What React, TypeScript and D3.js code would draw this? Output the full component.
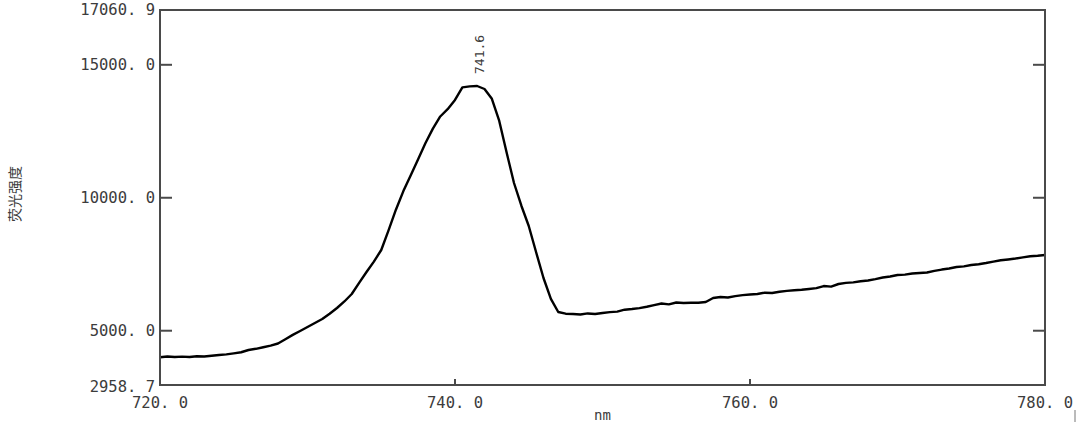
import React from "react";
import * as d3 from "d3";

const WL_START = 720;
const WL_END = 780;
const WL_STEP = 0.5;

// fluorescence intensity, every 0.5 nm from 720 to 780
const intensity: number[] = [
  4000, 4030, 4010, 4025, 4012, 4040, 4030, 4060, 4087, 4110, // 720 - 724.5
  4150, 4190, 4275, 4320, 4380, 4440, 4520, 4680, 4843, 4990, // 725 - 729.5
  5140, 5290, 5441, 5640, 5855, 6100, 6381, 6800, 7208, 7600, // 730 - 734.5
  8035, 8780, 9560, 10250, 10850, 11450, 12059, 12600, 13056, 13330, // 735 - 739.5
  13680, 14150, 14190, 14203, 14090, 13720, 12887, 11700, 10555, 9700, // 740 - 744.5
  8938, 7950, 6982, 6200, 5704, 5640, 5628, 5610, 5650, 5630, // 745 - 749.5
  5666, 5700, 5720, 5790, 5816, 5850, 5900, 5960, 6024, 5990, // 750 - 754.5
  6060, 6040, 6054, 6050, 6080, 6230, 6268, 6250, 6300, 6340, // 755 - 759.5
  6362, 6380, 6430, 6420, 6467, 6500, 6520, 6540, 6569, 6600, // 760 - 764.5
  6680, 6660, 6757, 6800, 6820, 6860, 6888, 6940, 7000, 7040, // 765 - 769.5
  7095, 7110, 7150, 7170, 7189, 7250, 7300, 7340, 7396, 7420, // 770 - 774.5
  7470, 7500, 7546, 7600, 7650, 7680, 7716, 7760, 7800, 7820, // 775 - 779.5
  7847, // 780
];

const yTicks: number[] = [15000, 10000, 5000];
const yMin = 2958.7;
const yMax = 17060.9;
const xTicks: number[] = [740, 760];
const xEdgeTicks: number[] = [720, 780];
const peakWl = 741.6;
const peakValue = 14203;

const fmt = (v: number) => v.toFixed(1).replace(".", ". ");

export default function App() {
  const W = 1080;
  const H = 425;
  const left = 160, right = 1045, top = 10, bottom = 385;
  const x = d3.scaleLinear().domain([WL_START, WL_END]).range([left, right]);
  const y = d3.scaleLinear().domain([yMin, yMax]).range([bottom, top]);
  const data = intensity.map((v, i) => ({ wl: WL_START + i * WL_STEP, v }));
  const line = d3
    .line<{ wl: number; v: number }>()
    .x((d) => x(d.wl))
    .y((d) => y(d.v));
  const axisColor = "#4a4a4a";
  const textColor = "#3c3c3c";
  const monoFont = "'DejaVu Sans Mono', monospace";
  return (
    <svg
      width={W}
      height={H}
      style={{ position: "absolute", left: 0, top: 0, background: "#fff" }}
    >
      <path d={line(data) || ""} fill="none" stroke="#000" strokeWidth={2.4} strokeLinejoin="round" />
      <rect x={left} y={top} width={right - left} height={bottom - top} fill="none" stroke={axisColor} strokeWidth={2} />
      {yTicks.map((t) => (
        <g key={t}>
          <line x1={left} x2={left + 12} y1={y(t)} y2={y(t)} stroke={axisColor} strokeWidth={2} />
          <line x1={right - 12} x2={right} y1={y(t)} y2={y(t)} stroke={axisColor} strokeWidth={2} />
          <text x={155} y={y(t)} dy="0.36em" textAnchor="end" fontFamily={monoFont} fontSize={15.5} fill={textColor}>
            {fmt(t)}
          </text>
        </g>
      ))}
      <text x={155} y={y(yMax) - 1} dy="0.36em" textAnchor="end" fontFamily={monoFont} fontSize={15.5} fill={textColor}>
        {fmt(yMax)}
      </text>
      <text x={155} y={y(yMin) + 1} dy="0.36em" textAnchor="end" fontFamily={monoFont} fontSize={15.5} fill={textColor}>
        {fmt(yMin)}
      </text>
      {xTicks.map((t) => (
        <line key={t} x1={x(t)} x2={x(t)} y1={bottom} y2={bottom - 6} stroke={axisColor} strokeWidth={2} />
      ))}
      {[...xEdgeTicks, ...xTicks].map((t) => (
        <text key={"l" + t} x={x(t)} y={408} textAnchor="middle" fontFamily={monoFont} fontSize={15.5} fill={textColor}>
          {fmt(t)}
        </text>
      ))}
      <text x={(left + right) / 2} y={420} textAnchor="middle" fontFamily={monoFont} fontSize={14} fill={textColor}>
        nm
      </text>
      <text
        transform={`translate(20,194) rotate(-90)`}
        textAnchor="middle"
        fontFamily="'Noto Sans CJK SC', sans-serif"
        fontSize={14}
        fill={textColor}
      >
        荧光强度
      </text>
      <text
        transform={`translate(${x(peakWl) + 5},${y(peakValue) - 12}) rotate(-90)`}
        textAnchor="start"
        fontFamily={monoFont}
        fontSize={13}
        fill={textColor}
      >
        {peakWl.toFixed(1)}
      </text>
      <line x1={1075} x2={1075} y1={410} y2={422} stroke="#777" strokeWidth={1} />
    </svg>
  );
}
